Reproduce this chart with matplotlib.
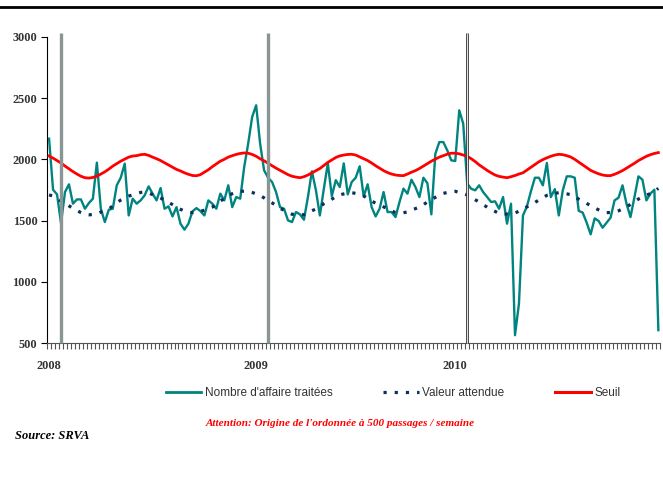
import numpy as np
import matplotlib
matplotlib.use("Agg")
import matplotlib.pyplot as plt
from matplotlib.lines import Line2D

# weekly series, 2008 week 1 onwards
nombre = [2169, 1752, 1714, 1480, 1733, 1796, 1638, 1673, 1673, 1597,
          1643, 1679, 1973, 1597, 1488, 1589, 1597, 1788, 1850, 1965,
          1542, 1679, 1638, 1665, 1706, 1779, 1720, 1665, 1766, 1597,
          1616, 1534, 1610, 1475, 1426, 1475, 1575, 1602, 1578, 1542,
          1665, 1638, 1597, 1720, 1665, 1788, 1610, 1692, 1679, 1937,
          2128, 2346, 2441, 2128, 1910, 1850, 1815, 1733, 1610, 1597,
          1502, 1488, 1570, 1551, 1507, 1692, 1902, 1750, 1542, 1760,
          1967, 1700, 1830, 1774, 1967, 1714, 1815, 1850, 1943, 1697,
          1796, 1610, 1534, 1597, 1733, 1570, 1570, 1529, 1652, 1761,
          1720, 1834, 1774, 1692, 1850, 1806, 1551, 2046, 2141, 2141,
          2073, 1992, 1986, 2400, 2291, 1801, 1760, 1747, 1788, 1733,
          1692, 1652, 1657, 1597, 1692, 1475, 1638, 565, 824, 1542,
          1616, 1739, 1850, 1850, 1788, 1970, 1692, 1757, 1542, 1747,
          1861, 1861, 1850, 1580, 1565, 1483, 1388, 1518, 1497, 1442,
          1483, 1524, 1665, 1687, 1788, 1638, 1529, 1692, 1861, 1834,
          1665, 1720, 1752, 606]

attendue = [1710, 1700, 1680, 1658, 1640, 1620, 1602, 1585, 1565, 1550,
            1547, 1550, 1556, 1570, 1582, 1595, 1620, 1645, 1668, 1685,
            1700, 1710, 1720, 1730, 1733, 1725, 1712, 1700, 1685, 1665,
            1650, 1630, 1610, 1592, 1578, 1568, 1565, 1568, 1575, 1585,
            1598, 1610, 1635, 1660, 1680, 1700, 1720, 1733, 1738, 1741,
            1740, 1730, 1718, 1705, 1685, 1662, 1645, 1622, 1600, 1585,
            1568, 1552, 1548, 1547, 1548, 1565, 1580, 1595, 1615, 1638,
            1655, 1675, 1695, 1710, 1718, 1725, 1728, 1722, 1712, 1702,
            1680, 1660, 1642, 1628, 1612, 1598, 1582, 1565, 1560, 1565,
            1570, 1585, 1598, 1610, 1630, 1652, 1672, 1690, 1708, 1722,
            1730, 1736, 1739, 1730, 1720, 1710, 1690, 1670, 1652, 1630,
            1610, 1590, 1575, 1558, 1556, 1553, 1551, 1560, 1578, 1597,
            1612, 1630, 1648, 1668, 1688, 1706, 1715, 1722, 1728, 1722,
            1718, 1712, 1695, 1675, 1659, 1640, 1620, 1603, 1588, 1572,
            1565, 1566, 1572, 1580, 1595, 1612, 1632, 1655, 1676, 1692,
            1708, 1720, 1740, 1763]

seuil = [2027, 2010, 1990, 1970, 1945, 1922, 1900, 1880, 1862, 1850,
         1847, 1852, 1862, 1880, 1898, 1920, 1945, 1965, 1985, 2002,
         2018, 2027, 2030, 2038, 2041, 2032, 2018, 2005, 1990, 1972,
         1955, 1935, 1918, 1905, 1890, 1878, 1868, 1866, 1875, 1895,
         1915, 1940, 1962, 1985, 2000, 2018, 2030, 2040, 2048, 2052,
         2050, 2040, 2025, 2005, 1988, 1968, 1948, 1928, 1910, 1892,
         1875, 1862, 1855, 1850, 1858, 1872, 1890, 1908, 1925, 1950,
         1975, 1995, 2015, 2028, 2035, 2040, 2041, 2035, 2020, 2005,
         1990, 1970, 1948, 1928, 1908, 1892, 1880, 1872, 1868, 1867,
         1880, 1895, 1908, 1925, 1945, 1965, 1985, 2002, 2018, 2030,
         2042, 2050, 2050, 2045, 2035, 2025, 2005, 1982, 1955, 1932,
         1910, 1890, 1872, 1861, 1855, 1850, 1858, 1868, 1880, 1890,
         1912, 1935, 1958, 1980, 1998, 2012, 2025, 2035, 2041, 2038,
         2030, 2019, 2000, 1978, 1955, 1932, 1910, 1895, 1882, 1872,
         1867, 1867, 1878, 1892, 1908, 1928, 1948, 1968, 1990, 2008,
         2025, 2038, 2048, 2055]

year_labels = ["2008", "2009", "2010"]
year_pos = [0, 52, 102]
marker_weeks = [3, 55]      # gray bars
marker_2010 = 105           # double line

weeks = np.arange(len(nombre))
dots = (0, (1.0, 2.5))

fig = plt.figure(figsize=(6.63, 4.84), dpi=100)
ax = fig.add_axes([0.071, 0.291, 0.925, 0.633])

ax.plot(weeks, nombre, color="#00847f", lw=1.7, zorder=3)
ax.plot(weeks, attendue, color="#0d2f5e", lw=2.3, ls=dots, zorder=3)
ax.plot(weeks, seuil, color="#ff0000", lw=2.0, zorder=4)

for w in marker_weeks:
    ax.plot([w, w], [500, 3030], color="#8a9694", lw=2.4, clip_on=False, zorder=5,
            solid_capstyle="butt")
ax.plot([marker_2010, marker_2010], [500, 3030], color="#3a3a3a", lw=2.0,
        clip_on=False, zorder=5, solid_capstyle="butt")
ax.plot([marker_2010, marker_2010], [500, 3030], color="white", lw=0.6,
        clip_on=False, zorder=6, solid_capstyle="butt")

ax.set_xlim(-0.5, len(nombre) - 0.5)
ax.set_ylim(500, 3000)

ax.spines["top"].set_visible(False)
ax.spines["right"].set_visible(False)
ax.spines["left"].set_color("black")
ax.spines["bottom"].set_color("#555555")

ax.set_yticks([500, 1000, 1500, 2000, 2500, 3000])
ax.set_xticks(year_pos)
ax.set_xticklabels(year_labels)
ax.set_xticks(np.arange(-0.5, len(nombre)), minor=True)
ax.tick_params(axis="x", which="major", length=0, pad=12)
ax.tick_params(axis="x", which="minor", length=4, color="#555555", width=0.8)
ax.tick_params(axis="y", length=4, width=0.8, pad=3)
for lab in ax.get_xticklabels() + ax.get_yticklabels():
    lab.set_fontfamily("Liberation Serif")
    lab.set_fontweight("bold")
    lab.set_fontsize(8.8)
    lab.set_color("#333333")

# top rule
fig.add_artist(Line2D([0, 1], [0.986, 0.986], transform=fig.transFigure,
                      color="black", lw=2))

handles = [Line2D([], [], color="#00847f", lw=2),
           Line2D([], [], color="#0d2f5e", lw=2.3, ls=dots),
           Line2D([], [], color="#ff0000", lw=2.2)]
fig.legend(handles, ["Nombre d'affaire traitées", "Valeur attendue", "Seuil"],
           loc="center", bbox_to_anchor=(0.593, 0.188), ncol=3, frameon=False,
           handlelength=3.0, columnspacing=4.3, handletextpad=0.3,
           prop={"family": "Liberation Sans", "size": 8.5}, labelcolor="#333333")

fig.text(0.513, 0.126, "Attention: Origine de l'ordonnée à 500 passages / semaine",
         ha="center", va="center", color="red", family="Liberation Serif",
         weight="bold", style="italic", fontsize=8)
fig.text(0.022, 0.099, "Source: SRVA", ha="left", va="center", color="black",
         family="Liberation Serif", weight="bold", style="italic", fontsize=9)

fig.savefig("out.png", dpi=100)
